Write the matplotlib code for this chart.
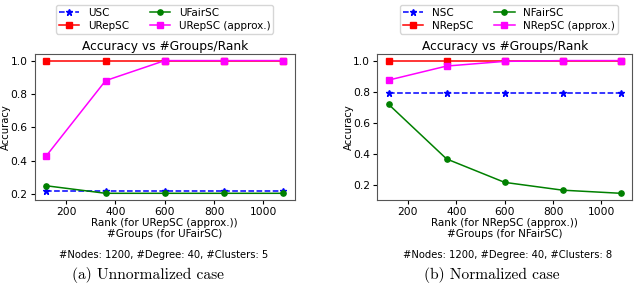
import matplotlib.pyplot as plt

ranks = [120, 360, 600, 840, 1080]

# unnormalized case
usc = [0.22, 0.22, 0.22, 0.22, 0.22]
urepsc = [1.0, 1.0, 1.0, 1.0, 1.0]
ufairsc = [0.25, 0.205, 0.205, 0.205, 0.205]
urepsc_approx = [0.43, 0.88, 1.0, 1.0, 1.0]

# normalized case
nsc = [0.79, 0.79, 0.79, 0.79, 0.79]
nrepsc = [1.0, 1.0, 1.0, 1.0, 1.0]
nfairsc = [0.72, 0.37, 0.22, 0.17, 0.15]
nrepsc_approx = [0.875, 0.965, 0.995, 1.0, 1.0]

yticks = [0.2, 0.4, 0.6, 0.8, 1.0]
xticks = [200, 400, 600, 800, 1000]

panels = [
    ('U', usc, urepsc, ufairsc, urepsc_approx, 5, '(a) Unnormalized case'),
    ('N', nsc, nrepsc, nfairsc, nrepsc_approx, 8, '(b) Normalized case'),
]

fig = plt.figure(figsize=(6.4, 2.84), dpi=100)
axes_pos = [[0.054, 0.296, 0.407, 0.514], [0.589, 0.296, 0.399, 0.514]]
centers = [0.257, 0.795]
info_x = [163.5 / 640, 508 / 640]
caption_x = [148 / 640, 492 / 640]
ylabel_x = [-0.092, -0.092]

for i, (p, sc, rep, fair, approx, k, caption) in enumerate(panels):
    ax = fig.add_axes(axes_pos[i])
    ax.plot(ranks, sc, 'b--', marker='*', ms=5, lw=1.1, label=p + 'SC')
    ax.plot(ranks, rep, color='red', marker='s', ms=3.8, lw=1.1, label=p + 'RepSC')
    ax.plot(ranks, fair, color='green', marker='o', ms=3.8, lw=1.1, label=p + 'FairSC')
    ax.plot(ranks, approx, color='magenta', marker='s', ms=3.8, lw=1.1, label=p + 'RepSC (approx.)')
    ax.set_xticks(xticks)
    ax.set_yticks(yticks)
    ax.tick_params(labelsize=7.7, length=3, pad=2)
    ax.set_title('Accuracy vs #Groups/Rank', fontsize=8.8, pad=3)
    ax.set_ylabel('Accuracy', fontsize=7.2)
    ax.yaxis.set_label_coords(ylabel_x[i], 0.5)
    ax.set_xlabel('Rank (for %sRepSC (approx.))\n#Groups (for %sFairSC)' % (p, p),
                  fontsize=7.5, labelpad=1, linespacing=1.05)
    for s in ax.spines.values():
        s.set_color('#555555')
    h, l = ax.get_legend_handles_labels()
    fig.legend(h, l, loc='upper center', bbox_to_anchor=(centers[i], 1.0), ncol=2,
               fontsize=7.5, handlelength=2.0, columnspacing=2.0, labelspacing=0.3,
               borderpad=0.25, handletextpad=0.8)
    fig.text(info_x[i], 1 - 255 / 284, '#Nodes: 1200, #Degree: 40, #Clusters: %d' % k,
             ha='center', va='center', fontsize=7.2)
    fig.text(caption_x[i], 1 - 275 / 284, caption,
             ha='center', va='center', fontsize=11.2, family='cmr10')

fig.savefig('out.png', dpi=100)
